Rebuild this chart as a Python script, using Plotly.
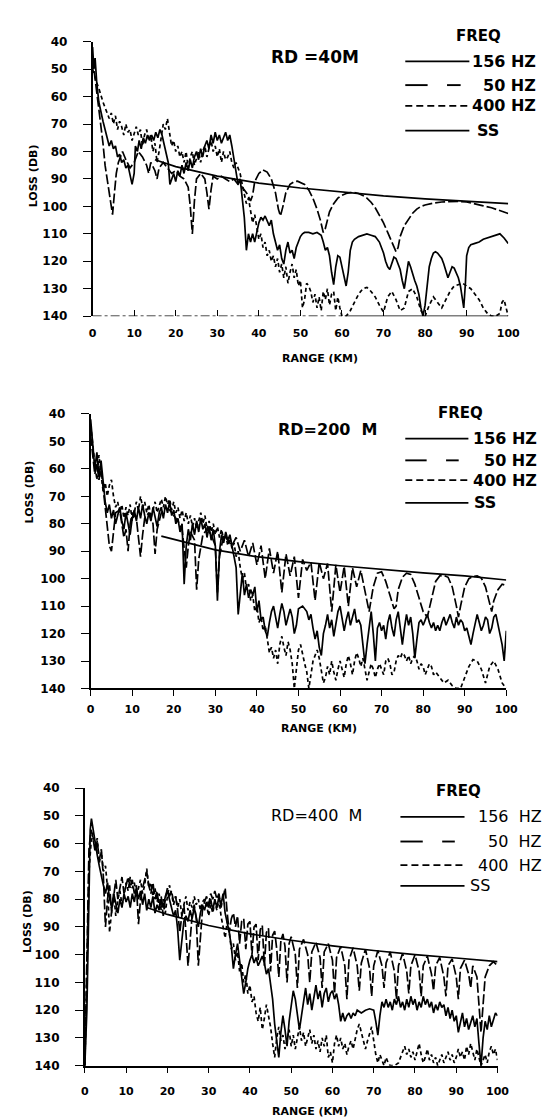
import plotly.graph_objects as go

# ---------------- data ----------------
RANGE_TICKS = [0, 10, 20, 30, 40, 50, 60, 70, 80, 90, 100]
LOSS_TICKS = [40, 50, 60, 70, 80, 90, 100, 110, 120, 130, 140]
PANEL_TITLES = ["RD =40M", "RD=200  M", "RD=400  M"]
LEGEND_LABELS = ["156 HZ", "50 HZ", "400 HZ", "SS"]

# Panel 1 : RD = 40 m   (range km, loss dB)
P1_156 = [(0,42),(0.3,50),(0.6,46),(1,55),(1.5,62),(2,66),(2.5,69),(3,72),(3.5,75),(4,78),(4.5,76),(5,79),(5.5,78),(6,82),(6.5,81),(7,84),(7.5,83),(8,86),(8.5,85),(9,89),(9.5,92),(10,88),(10.3,78),(10.8,80),(11.2,76),(11.7,79),(12.2,75),(12.7,77),(13.2,74),(13.7,76),(14.2,74),(14.7,76),(15.2,73),(15.7,75),(16.2,72),(16.7,74),(17.2,77),(17.7,80),(18.2,84),(18.6,92),(19,90),(19.5,88),(20,91),(20.5,87),(21,89),(21.5,85),(22,88),(22.5,84),(23,87),(23.5,83),(24,86),(24.5,82),(25,80),(25.5,83),(26,79),(26.5,82),(27,78),(27.5,76),(28,79),(28.5,74),(29,77),(29.5,73),(30,76),(30.5,74),(31,77),(31.5,75),(32,73),(32.5,76),(33,74),(33.5,78),(34,83),(34.5,88),(35,92),(35.5,90),(36,97),(36.5,104),(37,116),(37.5,110),(38,113),(38.5,110),(39,113),(39.5,109),(40,106),(40.5,104),(41,105),(41.5,103.5),(42,105),(42.5,107),(43,105),(43.5,110),(44,113),(44.5,116),(45,114),(45.5,119),(46,121),(46.5,116),(47,113),(47.5,117),(48,116),(48.5,119),(49,115),(49.5,113),(50,111),(50.5,110),(51,109.5),(52,109.5),(53,110),(54,109.5),(55,110.5),(55.5,113),(56,116),(56.5,115),(57,118),(57.5,124),(58,128.5),(58.5,122),(59,118),(59.5,118.5),(60,122),(60.5,126),(61,129),(61.5,124),(62,116),(62.5,113),(63,112),(64,111),(65,110.5),(66,110),(67,110.5),(68,111),(69,113),(70,117),(70.5,120),(71,122),(71.5,123),(72,121),(72.5,118.5),(73,119),(73.5,121),(74,123),(74.5,127),(75,130),(75.5,125),(76,120),(76.5,122),(77,125),(77.5,127),(78,129),(78.5,132),(79,137),(79.5,140),(80,136),(80.5,128),(81,122),(81.5,119),(82,117),(82.5,116.5),(83,117),(83.5,118),(84,119),(84.5,121),(85,124),(85.5,126),(86,124),(86.5,122),(87,122.5),(87.5,124),(88,126),(88.5,129),(89,135),(89.3,137),(89.7,128),(90,118),(90.5,115),(91,114),(92,113.5),(93,113),(94,112),(95,111.5),(96,111),(97,110.5),(98,110),(99,111.5),(100,113.5)]
P1_50 = [(0,46),(0.5,52),(1,57),(1.5,64),(2,70),(2.5,77),(3,85),(3.5,90),(4,95),(4.5,100),(4.8,103),(5.2,96),(5.7,88),(6.2,84),(6.7,82),(7.2,80),(8,83),(9,86),(10,84),(11,80),(12,82),(13,85),(13.5,88),(14,84),(15,87),(15.5,90),(16,86),(17,84),(18,86),(19,88),(20,87),(21,89),(22,90),(23,93),(23.5,100),(24,110),(24.5,98),(25,90),(26,88),(27,90),(27.5,95),(28,101),(28.5,94),(29,89),(30,90),(31,89),(32,90),(33,91),(34,90),(35,92),(36,93),(37,95),(38,98),(38.5,96),(39,91),(40,88),(41,86.7),(42,87.5),(43,90),(44,95),(44.7,101),(45.2,103.5),(45.8,100),(46.5,95),(47.5,92),(48.5,91),(49.3,90.8),(50,91.2),(51,92),(52,94),(53,97),(54,101),(54.8,105),(55.5,109.5),(56,108),(56.5,105),(57,102),(58,99),(59,97),(60,96),(61,95.3),(62,95),(63,95),(64,95.3),(65,96),(66,97),(67,98.5),(68,100.5),(69,103),(70,106),(71,109.5),(72,113),(73,116.5),(73.5,115),(74,111),(75,107),(76,104.5),(77,102.5),(78,101),(79,100),(80,99.5),(82,98.8),(84,98.4),(86,98.2),(88,98.2),(90,98.4),(92,99),(94,99.8),(96,100.5),(98,101.5),(100,102.6)]
P1_400 = [(0,50),(0.5,53),(1,55),(1.5,57),(2,60),(2.5,62),(3,64),(3.5,66),(4,68),(4.5,66),(5,70),(5.5,67),(6,72),(6.5,69),(7,71),(7.5,74),(8,70),(8.5,73),(9,72),(9.5,76),(10,73),(10.5,71),(11,74),(11.5,72),(12,78),(12.5,74),(13,72),(13.5,76),(14,74),(14.5,80),(15,77),(15.5,84),(16,80),(16.5,75),(17,70),(17.5,72),(18,68),(18.5,73),(19,78),(19.5,76),(20,80),(20.5,78),(21,82),(21.5,80),(22,84),(22.5,80),(23,86),(23.5,82),(24,80),(24.5,85),(25,82),(25.5,80),(26,84),(26.5,80),(27,78),(27.5,82),(28,79),(28.5,76),(29,80),(29.5,78),(30,82),(30.5,79),(31,84),(31.5,80),(32,83),(32.5,82),(33,80),(33.5,84),(34,86),(34.5,84),(35,86),(35.5,88),(36,92),(36.5,95),(37,99),(37.5,97),(38,102),(38.5,106),(39,103),(39.5,108),(40,112),(40.5,110),(41,115),(41.5,113),(42,118),(42.5,116),(43,120),(43.5,118),(44,122),(44.5,119),(45,124),(45.5,121),(46,126),(46.5,122),(47,128),(47.5,124),(48,121),(48.5,126),(49,123),(49.5,129),(50,127),(50.5,137),(51,134),(51.5,128),(52,129),(52.5,131),(53,135),(53.5,132),(54,137),(54.5,133),(55,138),(55.5,131),(56,134),(56.5,130),(57,136),(57.5,132),(58,131),(58.5,138),(59,133),(59.5,137),(60,140),(61,140),(62,138),(63,135),(64,132),(65,130),(66,129.5),(67,131),(68,133),(69,136),(70,138.5),(71,133),(72,131),(73,134),(74,138),(75,137),(76,131),(77,130),(78,133),(79,138),(80,140),(81,136),(82,133),(83,135),(84,137),(85,134),(86,131),(87,129),(88,128.5),(89,128),(90,129),(91,130),(92,132),(93,134),(94,137),(95,139),(96,140),(97,140),(98,139),(98.5,135),(99,134),(99.5,137),(100,140)]
P1_SS = [(15,83),(20,85.5),(30,89),(40,91.5),(50,93.3),(60,94.8),(70,96.2),(80,97.3),(90,98.2),(100,99)]

# Panel 2 : RD = 200 m
P2_156 = [(0,42),(0.3,48),(0.6,55),(1,60),(1.5,54),(2,63),(2.5,57),(3,66),(3.5,72),(4,76),(4.5,73),(5,78),(5.5,75),(6,80),(6.5,77),(7,74),(7.5,79),(8,82),(8.5,76),(9,80),(9.5,84),(10,78),(10.5,75),(11,79),(11.5,74),(12,78),(12.5,73),(13,77),(13.5,80),(14,76),(14.5,79),(15,74),(15.5,77),(16,81),(16.5,76),(17,74),(17.5,78),(18,73),(18.5,76),(19,72),(19.5,77),(20,75),(20.5,80),(21,78),(21.5,83),(22,80),(22.5,102),(23,88),(23.5,82),(24,86),(24.5,80),(25,84),(25.5,79),(26,83),(26.5,78),(27,82),(27.5,80),(28,85),(28.5,81),(29,86),(29.5,82),(30,88),(30.5,108),(31,90),(31.5,84),(32,87),(32.5,83),(33,86),(33.5,84),(34,88),(34.5,92),(35,96),(35.5,113),(36,104),(36.5,98),(37,106),(37.5,102),(38,107),(38.5,104),(39,106),(39.5,103),(40,112),(40.5,108),(41,115),(41.5,114),(42,119),(42.5,121),(43,116),(43.5,112),(44,110),(44.5,114),(45,118),(45.5,113),(46,109),(46.5,112),(47,117),(47.5,114),(48,111),(48.5,114),(49,120),(49.5,117),(50,111),(51,110),(52,112),(52.5,115),(53,113),(53.5,118),(54,122),(54.5,119),(55,125),(55.5,128),(56,120),(56.5,117),(57,113),(57.5,118),(58,115),(58.5,121),(59,116),(59.5,112),(60,110),(60.5,114),(61,119),(61.5,115),(62,112),(62.5,117),(63,114),(63.5,111),(64,116),(64.5,115),(65,117),(65.5,123),(66,131),(66.5,124),(67,118),(67.5,112),(68,120),(68.5,130),(69,118),(69.5,116),(70,119),(70.5,117),(71,122),(71.5,116),(72,113),(72.5,118),(73,121),(73.5,115),(74,112),(74.5,118),(75,124),(75.5,118),(76,113),(76.5,117),(77,114),(77.5,120),(78,129),(78.5,122),(79,116),(79.5,115),(80,117),(80.5,115),(81,113),(81.5,116),(82,118),(82.5,116),(83,119),(83.5,117),(84,119),(84.5,116),(85,114),(85.5,117),(86,115),(86.5,113),(87,116),(87.5,118),(88,114),(88.5,117),(89,115),(89.5,116),(90,119),(90.5,118),(91,121),(91.5,124),(92,120),(92.5,116),(93,113),(93.5,116),(94,119),(94.5,117),(95,114),(95.5,115),(96,120),(96.5,118),(97,114),(97.5,113),(98,117),(98.5,120),(99,124),(99.5,130),(100,119)]
P2_50 = [(0,48),(0.5,55),(1,62),(1.5,58),(2,64),(2.5,60),(3,67),(3.5,72),(4,80),(4.5,88),(5,90),(5.5,82),(6,76),(7,75),(7.5,80),(8,85),(8.5,82),(9,90),(9.5,80),(10,76),(11,78),(12,92),(12.5,84),(13,78),(14,76),(15,80),(15.5,91),(16,82),(17,76),(18,74),(19,75),(20,77),(21,79),(22,82),(22.5,89),(23,96),(23.5,88),(24,83),(25,86),(25.5,104),(26,93),(27,84),(28,82),(29,84),(30,88),(30.5,105),(31,92),(32,84),(33,86),(34,88),(35,85),(36,90),(37,86),(38,92),(39,87),(40,95),(41,88),(42,100),(43,89),(44,98),(45,90),(46,105),(47,91),(48,99),(49,92),(50,107),(51,93),(52,97),(53,94),(54,108),(55,94),(56,100),(57,94.5),(58,112),(59,95),(60,105),(61,95.5),(62,110),(63,96),(64,103),(65,97),(66,104),(67,112),(68,103),(69,98),(70,97.5),(71,101),(72,106),(73,111),(73.5,110),(74,104),(75,99.5),(76,98),(77,98.5),(78,102),(79,107),(80,112),(81,114),(82,107),(83,101),(84,99),(85,98.8),(86,99.5),(87,103),(88,110),(88.5,114),(89,110),(90,103),(91,100),(92,99.2),(93,99),(94,99.8),(95,103),(96,109),(96.5,112),(97,108),(98,104),(99,102),(100,102.5)]
P2_400 = [(0,44),(0.5,52),(1,58),(1.5,64),(2,55),(2.5,62),(3,68),(3.5,65),(4,70),(4.5,66),(5,64),(5.5,70),(6,74),(6.5,72),(7,76),(7.5,73),(8,78),(8.5,74),(9,77),(9.5,73),(10,79),(10.5,76),(11,72),(11.5,75),(12,70),(12.5,74),(13,72),(13.5,76),(14,73),(14.5,78),(15,75),(15.5,72),(16,76),(16.5,73),(17,71),(17.5,74),(18,70),(18.5,73),(19,71),(19.5,75),(20,72),(20.5,76),(21,74),(21.5,78),(22,75),(22.5,79),(23,76),(23.5,80),(24,77),(24.5,81),(25,78),(25.5,82),(26,79),(26.5,76),(27,80),(27.5,77),(28,82),(28.5,79),(29,83),(29.5,80),(30,84),(30.5,81),(31,85),(31.5,82),(32,86),(32.5,84),(33,88),(33.5,85),(34,89),(34.5,87),(35,92),(35.5,90),(36,96),(36.5,100),(37,98),(37.5,104),(38,102),(38.5,108),(39,106),(39.5,112),(40,110),(40.5,116),(41,114),(41.5,119),(42,117),(42.5,123),(43,127),(43.5,125),(44,129),(44.5,126),(45,131),(45.5,124),(46,121),(46.5,125),(47,128),(47.5,123),(48,126),(48.5,131),(49,140),(49.5,133),(50,126),(50.5,124),(51,128),(51.5,131),(52,134),(52.5,140),(53,135),(53.5,130),(54,128),(54.5,126),(55,129),(55.5,134),(56,138),(56.5,136),(57,132),(57.5,135),(58,130),(58.5,134),(59,137),(59.5,133),(60,130),(60.5,133),(61,136),(61.5,131),(62,128),(62.5,131),(63,135),(63.5,130),(64,127),(64.5,129),(65,132),(65.5,129),(66,133),(66.5,137),(67,134),(67.5,131),(68,133),(68.5,136),(69,133),(69.5,131),(70,133),(70.5,135),(71,130),(71.5,129),(72,131),(72.5,135),(73,134),(73.5,130),(74,128),(74.5,129),(75,127),(75.5,128),(76,130),(76.5,128),(77,131),(77.5,129),(78,128),(78.5,130),(79,133),(79.5,131),(80,132),(80.5,135),(81,133),(81.5,131),(82,132),(82.5,135),(83,134),(84,136),(85,138),(86,137),(87,139),(88,140),(89,140),(90,136),(91,132),(92,129.5),(93,130),(94,133),(95,138),(96,132),(97,130),(98,133),(99,138),(100,140)]
P2_SS = [(17,84.5),(20,85.7),(30,89.5),(40,92),(50,93.8),(60,95.3),(70,96.7),(80,97.9),(90,99),(100,100.5)]

# Panel 3 : RD = 400 m
P3_156 = [(0,140),(0.5,120),(1,80),(1.3,55),(1.6,51),(2,55),(2.5,60),(3,64),(3.5,68),(4,72),(4.5,75),(5,78),(5.5,74),(6,80),(6.5,83),(7,78),(7.5,82),(8,85),(8.5,80),(9,83),(9.5,78),(10,81),(10.5,79),(11,83),(11.5,78),(12,81),(12.5,76),(13,80),(13.5,77),(14,82),(14.5,78),(15,84),(15.5,80),(16,83),(16.5,79),(17,85),(17.5,82),(18,84),(18.5,80),(19,83),(19.5,79),(20,77),(20.5,80),(21,83),(21.5,86),(22,84),(22.5,91),(23,102),(23.5,96),(24,88),(24.5,86),(25,88),(25.5,84),(26,87),(26.5,83),(27,86),(27.5,90),(28,85),(28.5,82),(29,84),(29.5,81),(30,83),(30.5,80),(31,84),(31.5,80),(32,83),(32.5,79),(33,82),(33.5,78),(34,85),(34.5,88),(35,92),(35.5,97),(36,105),(36.5,100),(37,96),(37.5,102),(38,108),(38.5,114),(39,110),(39.5,105),(40,102),(40.5,100),(41,103),(41.5,101),(42,104),(42.5,102),(43,100.5),(43.5,103),(44,107),(44.5,105),(45,110),(45.5,116),(46,125),(46.5,131),(47,137),(47.5,128),(48,122),(48.5,127),(49,133),(49.5,124),(50,118),(50.5,113),(51,116),(51.5,121),(52,127),(52.5,122),(53,116),(53.5,112),(54,118),(54.5,114),(55,120),(55.5,115),(56,111),(56.5,116),(57,113),(57.5,119),(58,114),(58.5,112),(59,117),(59.5,114),(60,113),(60.5,116),(61,114),(61.5,118),(62,124),(62.5,121),(63,124),(63.5,122),(64,121),(64.5,123),(65,121),(65.5,122),(66,120),(67,121),(68,120),(69,119.5),(70,120),(70.5,124),(71,129),(71.5,122),(72,117),(72.5,119),(73,116),(73.5,119),(74,117),(74.5,120),(75,116),(75.5,118),(76,115),(76.5,119),(77,117),(77.5,120),(78,116),(78.5,119),(79,115),(79.5,118),(80,116),(80.5,120),(81,117),(81.5,119),(82,115),(82.5,118),(83,116),(83.5,119),(84,117),(84.5,121),(85,118),(85.5,120),(86,117),(86.5,119),(87,118),(87.5,122),(88,119),(88.5,123),(89,120),(89.5,124),(90,122),(90.5,128),(91,124),(91.5,121),(92,126),(92.5,123),(93,127),(93.5,124),(94,122),(94.5,126),(95,123),(95.5,132),(96,140),(96.5,130),(97,124),(97.5,127),(98,122),(98.5,126),(99,123),(99.5,121),(100,122)]
P3_50 = [(0,140),(0.5,100),(1,62),(1.5,55),(2,58),(2.5,63),(3,59),(3.5,66),(4,62),(4.5,72),(5,90),(5.5,80),(6,75),(6.5,85),(7,78),(7.5,73),(8,80),(8.5,76),(9,72),(9.5,78),(10,75),(10.5,72),(11,76),(11.5,73),(12,78),(12.5,75),(13,89),(13.5,80),(14,76),(14.5,73),(15,70),(15.5,75),(16,78),(16.5,74),(17,80),(17.5,77),(18,83),(18.5,79),(19,86),(19.5,80),(20,76),(20.5,79),(21,77),(21.5,81),(22,79),(22.5,84),(23,92),(23.5,86),(24,82),(24.5,92),(25,104),(25.5,95),(26,86),(26.5,82),(27,87),(27.5,104),(28,92),(28.5,84),(29,81),(29.5,79),(30,82),(30.5,78),(31,80),(31.5,77),(32,80),(32.5,78),(33,83),(33.5,79),(34,76),(34.5,85),(35,92),(35.5,87),(36,85),(36.5,90),(37,86),(37.5,96),(38,88),(38.5,87),(39,98),(39.5,89),(40,88),(40.5,100),(41,90),(41.5,89),(42,102),(42.5,91),(43,89.5),(43.5,104),(44,92),(44.5,90.5),(45,106),(45.5,93),(46,91.5),(46.5,98),(47,108),(47.5,95),(48,92.5),(48.5,97),(49,110),(49.5,96),(50,93.5),(51,100),(51.5,112),(52,98),(53,94.5),(54,100),(54.5,110),(55,99),(56,95.5),(57,101),(57.5,112),(58,99),(59,96),(60,102),(60.5,114),(61,101),(62,97),(63,104),(63.5,116),(64,102),(65,97.5),(66,104),(66.5,113),(67,103),(68,98),(69,105),(69.5,115),(70,104),(71,98.5),(72,104),(72.5,112),(73,103),(74,99),(75,106),(75.5,116),(76,104),(77,99.5),(78,106),(78.5,114),(79,104),(80,100),(81,106),(81.5,115),(82,104),(83,100.5),(84,107),(84.5,113),(85,104),(86,101),(87,108),(87.5,115),(88,104),(89,101.5),(90,108),(90.5,116),(91,105),(92,102),(93,107),(93.5,112),(94,104),(95,108),(95.5,118),(96,128),(96.5,118),(97,108),(98,104),(99,102.5),(100,104)]
P3_400 = [(0,140),(0.5,110),(1,70),(1.5,60),(2,56),(2.5,62),(3,58),(3.5,67),(4,63),(4.5,70),(5,68),(5.5,76),(6,92),(6.5,84),(7,78),(7.5,86),(8,80),(8.5,77),(9,82),(9.5,79),(10,74),(10.5,77),(11,72),(11.5,76),(12,74),(12.5,79),(13,76),(13.5,73),(14,78),(14.5,75),(15,69),(15.5,76),(16,74),(16.5,79),(17,76),(17.5,81),(18,78),(18.5,84),(19,80),(19.5,85),(20,79),(20.5,75),(21,78),(21.5,82),(22,79),(22.5,83),(23,80),(23.5,86),(24,82),(24.5,79),(25,84),(25.5,81),(26,83),(26.5,79),(27,82),(27.5,80),(28,84),(28.5,81),(29,80),(29.5,82),(30,86),(30.5,82),(31,85),(31.5,81),(32,84),(32.5,80),(33,86),(33.5,90),(34,94),(34.5,88),(35,92),(35.5,98),(36,96),(36.5,102),(37,99),(37.5,106),(38,103),(38.5,110),(39,107),(39.5,114),(40,111),(40.5,117),(41,115),(41.5,121),(42,124),(42.5,119),(43,127),(43.5,123),(44,118),(44.5,122),(45,126),(45.5,132),(46,137),(46.5,130),(47,126),(47.5,131),(48,129),(48.5,134),(49,131),(49.5,127),(50,133),(50.5,129),(51,134),(51.5,130),(52,126),(52.5,131),(53,128),(53.5,133),(54,130),(54.5,127),(55,132),(55.5,129),(56,134),(56.5,131),(57,135),(57.5,130),(58,133),(58.5,129),(59,137),(59.5,135),(60,139),(60.5,132),(61,129),(61.5,133),(62,130),(62.5,134),(63,132),(63.5,136),(64,133),(64.5,131),(65,134),(65.5,130),(66,127),(66.5,125),(67,128),(67.5,131),(68,134),(68.5,131),(69,128),(69.5,126),(70,131),(70.5,136),(71,139),(71.5,136),(72,138),(72.5,140),(73,137),(73.5,139),(74,140),(75,140),(76,139),(76.5,137),(77,135),(77.5,133),(78,136),(78.5,134),(79,137),(79.5,135),(80,138),(80.5,135),(81,132),(81.5,136),(82,139),(82.5,137),(83,134),(83.5,138),(84,136),(84.5,139),(85,137),(85.5,140),(86,138),(86.5,136),(87,139),(87.5,137),(88,135),(88.5,138),(89,136),(89.5,139),(90,137),(90.5,134),(91,137),(91.5,135),(92,138),(92.5,133),(93,136),(93.5,132),(94,135),(94.5,138),(95,134),(95.5,137),(96,140),(96.5,138),(97,136),(97.5,139),(98,135),(98.5,133),(99,136),(99.5,134),(100,138)]
P3_SS = [(15,83),(20,85.5),(30,89.5),(40,92.5),(50,94.8),(60,96.8),(70,98.5),(80,100),(90,101.2),(100,102.5)]

SERIES = [
    {"156": P1_156, "50": P1_50, "400": P1_400, "SS": P1_SS},
    {"156": P2_156, "50": P2_50, "400": P2_400, "SS": P2_SS},
    {"156": P3_156, "50": P3_50, "400": P3_400, "SS": P3_SS},
]

# ---------------- layout (pixel geometry of the page) ----------------
W, H = 553, 1118
FONT = "DejaVu Sans"

def PX(x):
    return x / W

def PY(y):
    return 1 - y / H

PANELS = [
    dict(x0=83, x1=511, y0=27, y1=305, xtick="inside", xstand=9,
         freq=(480, 21), rd=(312, 43), rows=[47, 71, 92, 117],
         line=(405, 471), dash2=(428, 448, 462), lab_r=542, ss_l=477,
         rng=(317, 348), loss=(23, 163), bold=True, lsize=16, rdsize=17),
    dict(x0=81, x1=509, y0=404, y1=682, xtick="outside", xstand=4,
         freq=(462, 403), rd=(325, 420), rows=[429, 451, 471, 494],
         line=(405, 470), dash2=(427, 447, 460), lab_r=543, ss_l=474,
         rng=(316, 723), loss=(18, 483), bold=True, lsize=16, rdsize=16),
    dict(x0=75, x1=500, y0=783, y1=1064, xtick="outside", xstand=8,
         freq=(460, 786), rd=(314, 811), rows=[812, 837, 861, 882],
         line=(400, 466), dash2=(423, 443, 456), lab_r=548, ss_l=470,
         rng=(307, 1110), loss=(16, 918), bold=False, lsize=16, rdsize=16),
]

STYLE = {
    "SS": dict(color="black", width=1.7),
    "50": dict(color="black", width=1.7, dash="10px,3px"),
    "156": dict(color="black", width=1.7),
    "400": dict(color="black", width=1.7, dash="4px,3px"),
}

fig = go.Figure()
shapes = []
annotations = []
layout = {}

for i, (p, ser) in enumerate(zip(PANELS, SERIES)):
    sfx = "" if i == 0 else str(i + 1)
    xref, yref = "x" + sfx, "y" + sfx
    for key in ["SS", "50", "156", "400"]:
        xs = [a for a, b in ser[key]]
        ys = [b for a, b in ser[key]]
        fig.add_trace(go.Scatter(x=xs, y=ys, mode="lines", line=STYLE[key],
                                 xaxis=xref, yaxis=yref, showlegend=False,
                                 hoverinfo="skip"))
    layout["xaxis" + sfx] = dict(
        domain=[PX(p["x0"]), PX(p["x1"])], range=[0, 100], anchor=yref,
        tickvals=RANGE_TICKS, ticks=p["xtick"], ticklen=6, tickwidth=1.3,
        tickcolor="black", showline=(i != 0), linecolor="black", linewidth=1.6,
        showgrid=False, zeroline=False, ticklabelstandoff=p["xstand"],
        tickfont=dict(family=FONT, size=11, color="black", weight="bold"))
    layout["yaxis" + sfx] = dict(
        domain=[PY(p["y1"]), PY(p["y0"])], range=[140, 40], anchor=xref,
        tickvals=LOSS_TICKS, ticks="outside", ticklen=8, tickwidth=1.3,
        tickcolor="black", showline=True, linecolor="black", linewidth=1.7,
        showgrid=False, zeroline=False, ticklabelstandoff=13,
        tickfont=dict(family=FONT, size=12, color="black", weight="bold"))
    if i == 0:
        shapes.append(dict(type="line", xref=xref, yref=yref, x0=0, x1=61,
                           y0=140, y1=140, line=dict(color="black", width=1.2, dash="dashdot")))
        shapes.append(dict(type="line", xref=xref, yref=yref, x0=61, x1=100,
                           y0=140, y1=140, line=dict(color="black", width=1.6)))
    # legend lines
    l0, l1 = p["line"]
    rows = p["rows"]
    shapes.append(dict(type="line", xref="paper", yref="paper", x0=PX(l0), x1=PX(l1),
                       y0=PY(rows[0]), y1=PY(rows[0]), line=dict(color="black", width=1.7)))
    d_a, d_b, d_c = p["dash2"]
    shapes.append(dict(type="line", xref="paper", yref="paper", x0=PX(l0), x1=PX(d_a),
                       y0=PY(rows[1]), y1=PY(rows[1]), line=dict(color="black", width=1.9)))
    shapes.append(dict(type="line", xref="paper", yref="paper", x0=PX(d_b), x1=PX(d_c),
                       y0=PY(rows[1]), y1=PY(rows[1]), line=dict(color="black", width=1.9)))
    shapes.append(dict(type="line", xref="paper", yref="paper", x0=PX(l0), x1=PX(l1),
                       y0=PY(rows[2]), y1=PY(rows[2]),
                       line=dict(color="black", width=1.7, dash="7px,4px")))
    shapes.append(dict(type="line", xref="paper", yref="paper", x0=PX(l0), x1=PX(l1),
                       y0=PY(rows[3]), y1=PY(rows[3]), line=dict(color="black", width=1.7)))
    wt = "bold" if p["bold"] else "normal"
    lf = dict(family=FONT, size=p["lsize"], color="black", weight=wt)
    for j, lab in enumerate(LEGEND_LABELS):
        if lab == "SS":
            annotations.append(dict(x=PX(p["ss_l"]), y=PY(rows[j]), xref="paper", yref="paper",
                                    text=lab, showarrow=False, xanchor="left", yanchor="middle", font=lf))
        else:
            txt = lab.replace(" ", "  ") if not p["bold"] else lab
            annotations.append(dict(x=PX(p["lab_r"]), y=PY(rows[j]), xref="paper", yref="paper",
                                    text=txt, showarrow=False, xanchor="right", yanchor="middle", font=lf))
    annotations.append(dict(x=PX(p["freq"][0]), y=PY(p["freq"][1]), xref="paper", yref="paper",
                            text="FREQ", showarrow=False, xanchor="center", yanchor="middle",
                            font=dict(family=FONT, size=15, color="black", weight="bold")))
    annotations.append(dict(x=PX(p["rd"][0]), y=PY(p["rd"][1]), xref="paper", yref="paper",
                            text=PANEL_TITLES[i], showarrow=False, xanchor="center", yanchor="middle",
                            font=dict(family=FONT, size=p["rdsize"], color="black", weight=wt)))
    annotations.append(dict(x=PX(p["rng"][0]), y=PY(p["rng"][1]), xref="paper", yref="paper",
                            text="RANGE (KM)", showarrow=False, xanchor="center", yanchor="middle",
                            font=dict(family=FONT, size=11, color="black", weight="bold")))
    annotations.append(dict(x=PX(p["loss"][0]), y=PY(p["loss"][1]), xref="paper", yref="paper",
                            text="LOSS (DB)", showarrow=False, xanchor="center", yanchor="middle",
                            textangle=-90,
                            font=dict(family=FONT, size=11, color="black", weight="bold")))

fig.update_layout(width=W, height=H, autosize=False,
                  margin=dict(l=0, r=0, t=0, b=0),
                  paper_bgcolor="white", plot_bgcolor="white",
                  shapes=shapes, annotations=annotations, **layout)

fig.write_html("out.html")
